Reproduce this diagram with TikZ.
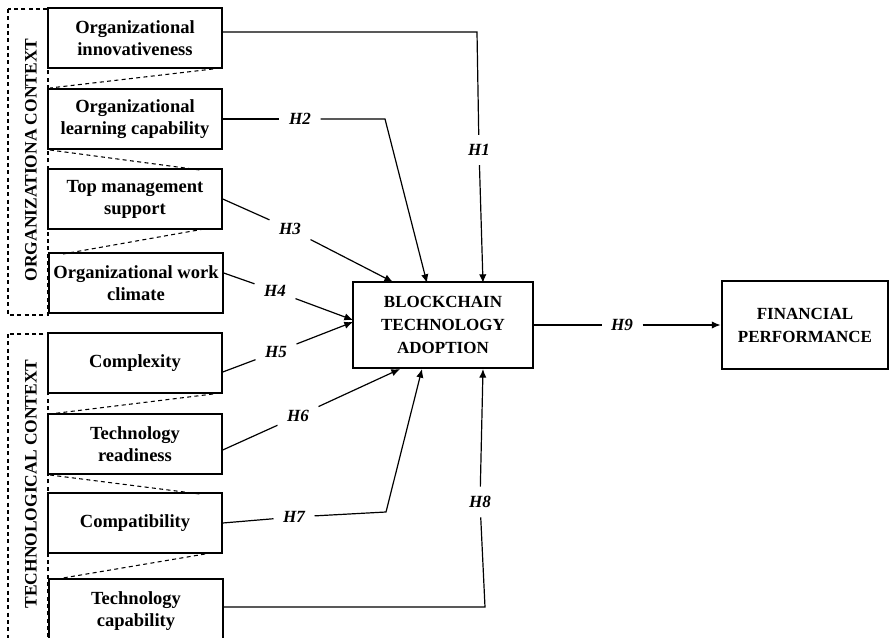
\documentclass[tikz,border=0pt]{standalone}
\usepackage{fontspec}
\setmainfont{Liberation Serif}
\usetikzlibrary{arrows.meta,calc}
\begin{document}
\begin{tikzpicture}[x=0.75pt,y=-0.75pt,
  lbox/.style={draw, line width=1.1pt, minimum width=130.5pt, minimum height=45pt,
    align=center, inner sep=1pt, font=\fontsize{13.9}{16.5}\selectfont\bfseries},
  bigbox/.style={draw, line width=2.2pt, align=center, inner sep=1pt,
    font=\fontsize{12.75}{17.25}\selectfont\bfseries},
  hyp/.style={inner sep=7pt, font=\fontsize{12.8}{15}\selectfont\bfseries\itshape},
  grplabel/.style={rotate=90, inner sep=0pt, font=\fontsize{13.1}{15}\selectfont\bfseries},
  conn/.style={line width=0.9pt},
  arr/.style={conn, -{Latex[length=6.5pt,width=5.5pt]}},
  grp/.style={draw, dash pattern=on 3pt off 2.5pt, line width=0.8pt}]
\useasboundingbox (0,0) rectangle (893,638);
\clip (0,0) rectangle (893,638);

% group frames
\draw[grp] (8,9) rectangle (48,315);
\draw[grp] (8,334) rectangle (48,660);
\node[grplabel] (gorg) at (31,160) {ORGANIZATIONA CONTEXT};
\node[grplabel] (gtech) at (31,484) {TECHNOLOGICAL CONTEXT};

% left boxes
\node[lbox] (b1) at (135,38) {Organizational\\innovativeness};
\node[lbox] (b2) at (135,119) {Organizational\\learning capability};
\node[lbox] (b3) at (135,199) {Top management\\support};
\node[lbox] (b4) at (136,283) {Organizational work\\climate};
\node[lbox] (b5) at (135,363) {Complexity};
\node[lbox] (b6) at (135,444) {Technology\\readiness};
\node[lbox] (b7) at (135,523) {Compatibility};
\node[lbox, minimum height=48pt] (b8) at (136,611) {Technology\\capability};

% dashed funnel lines
\draw[grp] (213,69) -- (50,88);
\draw[grp] (50,150) -- (200,170);
\draw[grp] (204,229) -- (63,254);
\draw[grp] (213,394) -- (50,414);
\draw[grp] (50,475) -- (200,494);
\draw[grp] (205,554) -- (63,578);

% central boxes
\node[bigbox, minimum width=135pt, minimum height=64.5pt] (ba) at (443,325)
  {BLOCKCHAIN\\TECHNOLOGY\\ADOPTION};
\node[bigbox, minimum width=124.5pt, minimum height=66pt] (fp) at (805,325)
  {FINANCIAL\\PERFORMANCE};

% hypothesis labels
\node[hyp] (h1) at (479,150) {H1};
\node[hyp] (h2) at (300,119) {H2};
\node[hyp] (h3) at (290,229) {H3};
\node[hyp] (h4) at (275,291) {H4};
\node[hyp] (h5) at (276,352) {H5};
\node[hyp] (h6) at (298,416) {H6};
\node[hyp] (h7) at (294,517) {H7};
\node[hyp] (h8) at (480,502) {H8};
\node[hyp] (h9) at (622,325) {H9};

% bend points and tips
\coordinate (k1) at (477,32);
\coordinate (t1) at (483,283);
\coordinate (k2) at (385,119);
\coordinate (t2) at (427,283);
\coordinate (t3) at (393,282);
\coordinate (t4) at (353,320);
\coordinate (t5) at (353,322);
\coordinate (t6) at (400,369);
\coordinate (k7) at (386,512);
\coordinate (t7) at (422,369);
\coordinate (k8) at (485,607);
\coordinate (t8) at (483,369);

% connectors
\draw[conn] (b1.east |- k1) -- (k1) -- (h1);
\draw[arr] (h1) -- (t1);
\draw[conn] (b2.east) -- (h2);
\draw[arr] (h2) -- (k2) -- (t2);
\draw[conn] (b3.east) -- (h3);
\draw[arr] (h3) -- (t3);
\draw[conn] ($(b4.east)+(0,-10)$) -- (h4);
\draw[arr] (h4) -- (t4);
\draw[conn] ($(b5.east)+(0,9)$) -- (h5);
\draw[arr] (h5) -- (t5);
\draw[conn] ($(b6.east)+(0,6)$) -- (h6);
\draw[arr] (h6) -- (t6);
\draw[conn] (b7.east) -- (h7);
\draw[arr] (h7) -- (k7) -- (t7);
\draw[conn] (b8.east |- k8) -- (k8) -- (h8);
\draw[arr] (h8) -- (t8);
\draw[conn] (ba.east) -- (h9.west);
\draw[arr] (h9.east) -- (fp.west);
\end{tikzpicture}
\end{document}
